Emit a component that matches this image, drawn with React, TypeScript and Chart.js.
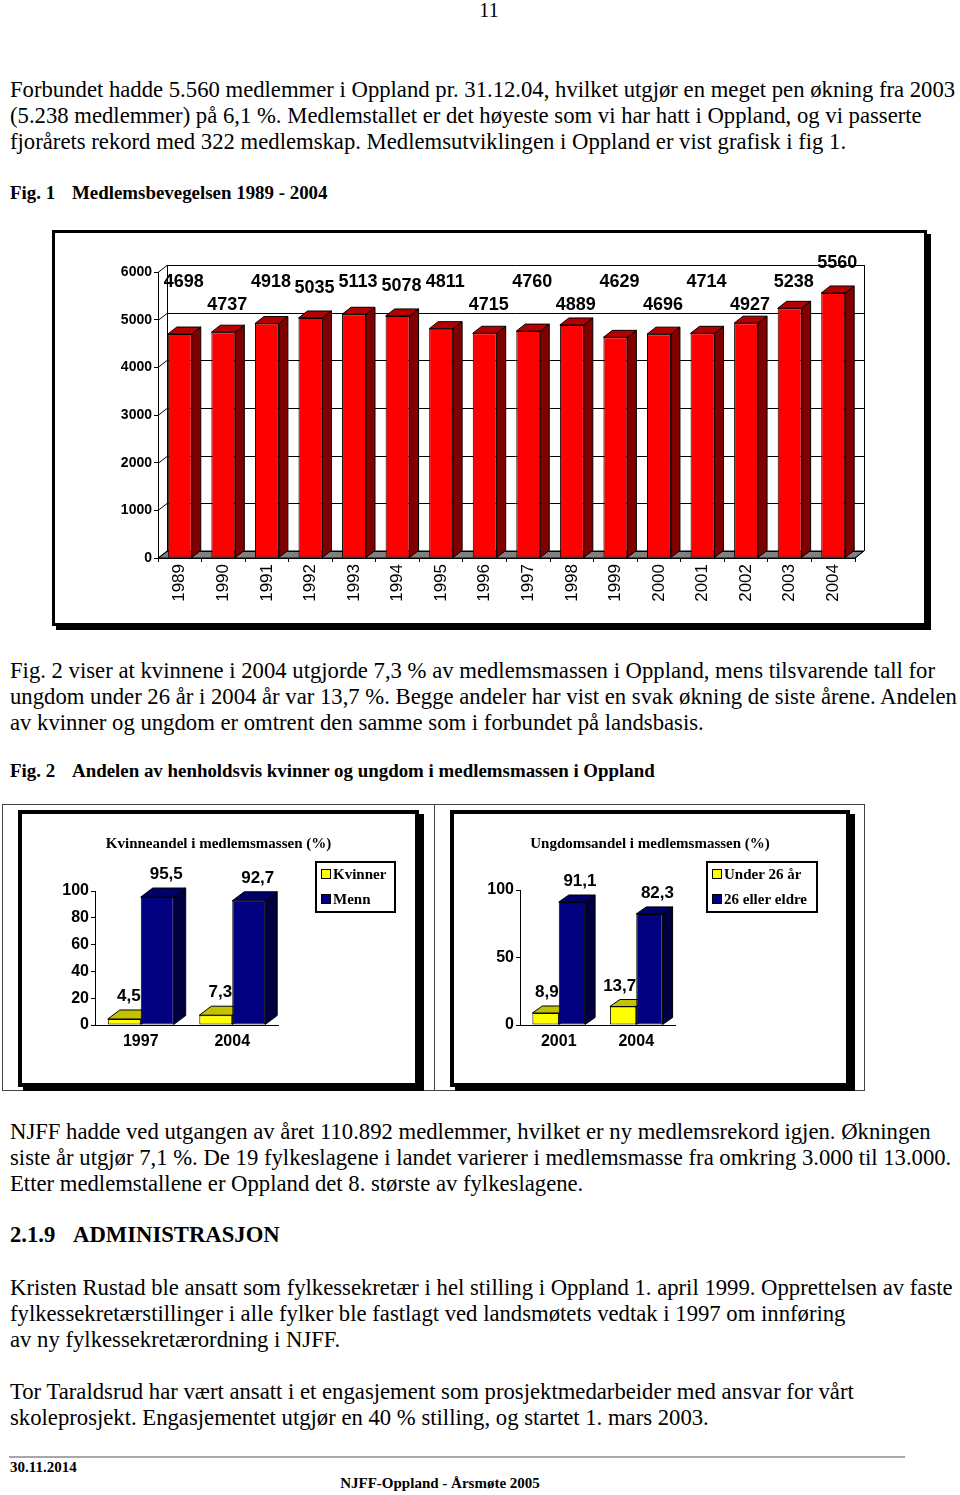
import React, { useEffect, useRef } from "react";
import { Chart, registerables } from "chart.js";

Chart.register(...registerables);

// ---------------- data ----------------
const memberYears = ["1989", "1990", "1991", "1992", "1993", "1994", "1995", "1996", "1997", "1998", "1999", "2000", "2001", "2002", "2003", "2004"];
const memberCounts = [4698, 4737, 4918, 5035, 5113, 5078, 4811, 4715, 4760, 4889, 4629, 4696, 4714, 4927, 5238, 5560];
const memberAxisMax = 6000;
const memberAxisStep = 1000;

const womenYears = ["1997", "2004"];
const womenSeries = ["Kvinner", "Menn"];
const womenShare = [4.5, 7.3];
const menShare = [95.5, 92.7];
const womenAxisStep = 20;

const youthYears = ["2001", "2004"];
const youthSeries = ["Under 26 år", "26 eller eldre"];
const youthShare = [8.9, 13.7];
const adultShare = [91.1, 82.3];
const youthAxisStep = 50;

const shareAxisMax = 100;

// ---------------- fonts ----------------
const SANS = '"Liberation Sans", Arial, Helvetica, sans-serif';
const SERIF = '"Liberation Serif", "Times New Roman", Times, serif';

// ---------------- plugins ----------------
function poly(ctx: CanvasRenderingContext2D, pts: number[][], fill: string) {
  ctx.beginPath();
  ctx.moveTo(pts[0][0], pts[0][1]);
  for (let i = 1; i < pts.length; i++) ctx.lineTo(pts[i][0], pts[i][1]);
  ctx.closePath();
  ctx.fillStyle = fill;
  ctx.fill();
  ctx.stroke();
}

const depthPlugin = {
  id: "depth3d",
  beforeDatasetsDraw(chart: any, _args: any, opts: any) {
    const { ctx, chartArea: a } = chart;
    const dx = opts.dx;
    const dy = opts.dy;
    ctx.save();
    ctx.lineWidth = 1;
    ctx.strokeStyle = "#000";
    if (opts.wall) {
      const ys = chart.scales.y;
      poly(ctx, [[a.left, a.bottom], [a.left + dx, a.bottom + dy], [a.right + dx, a.bottom + dy], [a.right, a.bottom]], opts.floorColor);
      ctx.beginPath();
      ys.ticks.forEach((t: any) => {
        const y = Math.round(ys.getPixelForValue(t.value)) + 0.5;
        ctx.moveTo(a.left, y);
        ctx.lineTo(a.left + dx, y + dy);
        ctx.lineTo(a.right + dx, y + dy);
      });
      ctx.moveTo(a.left + dx + 0.5, a.top + dy);
      ctx.lineTo(a.left + dx + 0.5, a.bottom + dy);
      ctx.moveTo(a.right + dx + 0.5, a.top + dy);
      ctx.lineTo(a.right + dx + 0.5, a.bottom + dy);
      ctx.moveTo(a.right, a.bottom);
      ctx.lineTo(a.right + dx, a.bottom + dy);
      ctx.stroke();
    }
    chart.data.datasets.forEach((ds: any, i: number) => {
      const meta = chart.getDatasetMeta(i);
      meta.data.forEach((el: any) => {
        const p = el.getProps(["x", "y", "base", "width"], true);
        const x1 = p.x - p.width / 2;
        const x2 = p.x + p.width / 2;
        poly(ctx, [[x2, p.y], [x2 + dx, p.y + dy], [x2 + dx, p.base + dy], [x2, p.base]], ds.sideColor);
        poly(ctx, [[x1, p.y], [x1 + dx, p.y + dy], [x2 + dx, p.y + dy], [x2, p.y]], ds.topColor);
      });
    });
    ctx.restore();
  },
};

const valueLabelPlugin = {
  id: "valueLabels",
  afterDatasetsDraw(chart: any, _args: any, opts: any) {
    const { ctx, chartArea: a } = chart;
    ctx.save();
    ctx.font = opts.font;
    ctx.fillStyle = "#000";
    ctx.textBaseline = "alphabetic";
    chart.data.datasets.forEach((ds: any, i: number) => {
      const meta = chart.getDatasetMeta(i);
      meta.data.forEach((el: any, j: number) => {
        const p = el.getProps(["x", "y", "width"], true);
        const v = ds.data[j];
        const text = opts.comma ? String(v).replace(".", ",") : String(v);
        const backTop = p.y + opts.dy;
        let yb: number;
        if (opts.staggered) {
          yb = a.top + (j % 2 === 0 ? opts.rowHigh : opts.rowLow);
          if (yb > backTop - opts.gap) yb = backTop - opts.clear;
        } else {
          yb = backTop - opts.gap;
        }
        if (ds.labelAlign === "right") {
          ctx.textAlign = "right";
          ctx.fillText(text, p.x + p.width / 2, yb);
        } else {
          ctx.textAlign = "center";
          ctx.fillText(text, p.x + (ds.labelShift || 0), yb);
        }
      });
    });
    ctx.restore();
  },
};

const boxLegendPlugin = {
  id: "boxLegend",
  afterDraw(chart: any, _args: any, opts: any) {
    const { ctx, chartArea: a } = chart;
    const x = a.right + opts.x;
    const y = a.top + opts.y;
    ctx.save();
    ctx.fillStyle = "#fff";
    ctx.fillRect(x, y, opts.w, opts.h);
    ctx.lineWidth = 2;
    ctx.strokeStyle = "#000";
    ctx.strokeRect(x, y, opts.w, opts.h);
    ctx.font = opts.font;
    ctx.textBaseline = "middle";
    ctx.textAlign = "left";
    chart.data.datasets.forEach((ds: any, i: number) => {
      const cy = Math.round(y + opts.rowTop + i * opts.rowGap);
      ctx.lineWidth = 1;
      ctx.fillStyle = ds.backgroundColor;
      ctx.fillRect(x + 5.5, cy - 4.5, 9, 9);
      ctx.strokeRect(x + 5.5, cy - 4.5, 9, 9);
      ctx.fillStyle = "#000";
      ctx.fillText(ds.label, x + 17, cy + 1);
    });
    ctx.restore();
  },
};

// ---------------- chart configs ----------------
function membersConfig(): any {
  return {
    type: "bar",
    data: {
      labels: memberYears,
      datasets: [
        {
          label: "Medlemmer",
          data: memberCounts,
          backgroundColor: "#ff0000",
          borderColor: "#000",
          borderWidth: 1,
          borderSkipped: false,
          topColor: "#b40000",
          sideColor: "#800000",
          labelShift: 4,
          barPercentage: 0.55,
          categoryPercentage: 1,
        },
      ],
    },
    plugins: [depthPlugin, valueLabelPlugin],
    options: {
      animation: false,
      responsive: false,
      events: [],
      layout: { padding: { left: 53, right: 69, top: 39, bottom: 15 } },
      plugins: {
        legend: { display: false },
        tooltip: { enabled: false },
        title: { display: false },
        depth3d: { dx: 9, dy: -7, wall: true, floorColor: "#808080" },
        valueLabels: {
          font: `bold 18px ${SANS}`,
          dy: -7,
          staggered: true,
          rowHigh: 15,
          rowLow: 38,
          gap: 6,
          clear: 18,
          comma: false,
        },
      },
      scales: {
        x: {
          grid: { drawOnChartArea: false, tickLength: 4, color: "#000" },
          border: { color: "#000" },
          ticks: {
            minRotation: 90,
            maxRotation: 90,
            autoSkip: false,
            color: "#000",
            padding: 2,
            font: { family: SANS, size: 17 },
          },
          afterFit: (s: any) => {
            s.height = 50;
          },
        },
        y: {
          min: 0,
          max: memberAxisMax,
          ticks: {
            stepSize: memberAxisStep,
            color: "#000",
            padding: 2,
            font: { family: SANS, size: 14, weight: "bold" },
            callback: (v: any) => String(v),
          },
          grid: { drawOnChartArea: false, tickLength: 4, color: "#000" },
          border: { color: "#000" },
          afterFit: (s: any) => {
            s.width = 50;
          },
        },
      },
    },
  };
}

function shareConfig(p: {
  title: string;
  labels: string[];
  series: string[];
  low: number[];
  high: number[];
  step: number;
  yWidth: number;
  padWidth: number;
  titleBottom: number;
  catPct: number;
  dx: number;
  dy: number;
  legendX: number;
  legendY: number;
  legendW: number;
}): any {
  return {
    type: "bar",
    data: {
      labels: p.labels,
      datasets: [
        {
          label: p.series[0],
          data: p.low,
          backgroundColor: "#ffff00",
          borderColor: "#000",
          borderWidth: 1,
          borderSkipped: false,
          topColor: "#c2c200",
          sideColor: "#808000",
          labelAlign: "right",
          barPercentage: 1,
          categoryPercentage: p.catPct,
        },
        {
          label: p.series[1],
          data: p.high,
          backgroundColor: "#000080",
          borderColor: "#000",
          borderWidth: 1,
          borderSkipped: false,
          topColor: "#000068",
          sideColor: "#000040",
          labelShift: p.dx / 2 + 3,
          barPercentage: 1,
          categoryPercentage: p.catPct,
        },
      ],
    },
    plugins: [depthPlugin, valueLabelPlugin, boxLegendPlugin],
    options: {
      animation: false,
      responsive: false,
      events: [],
      layout: { padding: { left: 0, right: 0, top: 0, bottom: 28 } },
      plugins: {
        legend: { display: false },
        tooltip: { enabled: false },
        title: {
          display: true,
          text: p.title,
          color: "#000",
          font: { family: SERIF, size: 15, weight: "bold", lineHeight: 1.2 },
          padding: { top: 21, bottom: p.titleBottom },
        },
        depth3d: { dx: p.dx, dy: p.dy, wall: false },
        valueLabels: {
          font: `bold 17px ${SANS}`,
          dy: p.dy,
          staggered: false,
          gap: 9,
          comma: true,
        },
        boxLegend: {
          x: p.legendX,
          y: p.legendY,
          w: p.legendW,
          h: 50,
          rowTop: 12,
          rowGap: 25,
          font: `bold 15px ${SERIF}`,
        },
      },
      scales: {
        x: {
          grid: { drawOnChartArea: false, drawTicks: false, color: "#000" },
          border: { color: "#000" },
          ticks: {
            color: "#000",
            padding: 7,
            font: { family: SANS, size: 16, weight: "bold" },
          },
          afterFit: (s: any) => {
            s.height = 30;
          },
        },
        y: {
          min: 0,
          max: shareAxisMax,
          ticks: {
            stepSize: p.step,
            color: "#000",
            padding: 2,
            font: { family: SANS, size: 16, weight: "bold" },
          },
          grid: { drawOnChartArea: false, tickLength: 4, color: "#000" },
          border: { color: "#000" },
          afterFit: (s: any) => {
            s.width = p.yWidth;
          },
        },
        yPad: {
          type: "linear",
          position: "right",
          display: true,
          ticks: { display: false },
          grid: { display: false },
          border: { display: false },
          afterFit: (s: any) => {
            s.width = p.padWidth;
          },
        },
      },
    },
  };
}

// ---------------- components ----------------
function ChartCanvas(props: { left: number; top: number; width: number; height: number; make: () => any }) {
  const ref = useRef<HTMLCanvasElement | null>(null);
  useEffect(() => {
    const chart = new Chart(ref.current as HTMLCanvasElement, props.make());
    return () => chart.destroy();
  }, []);
  return (
    <canvas
      ref={ref}
      width={props.width}
      height={props.height}
      style={{ position: "absolute", left: props.left, top: props.top, width: props.width, height: props.height }}
    />
  );
}

function Line(props: { x: number; y: number; size: number; bold?: boolean; center?: boolean; children: React.ReactNode }) {
  return (
    <div
      style={{
        position: "absolute",
        left: props.x,
        top: props.y,
        fontFamily: SERIF,
        fontSize: props.size,
        lineHeight: `${props.size}px`,
        fontWeight: props.bold ? "bold" : "normal",
        whiteSpace: "nowrap",
        color: "#000",
        transform: props.center ? "translateX(-50%)" : undefined,
      }}
    >
      {props.children}
    </div>
  );
}

const BODY = 22.7;

function Para(props: { top: number; lines: string[] }) {
  return (
    <>
      {props.lines.map((l, i) => (
        <Line key={i} x={10} y={props.top + i * 26} size={BODY}>
          {l}
        </Line>
      ))}
    </>
  );
}

export default function App() {
  return (
    <div
      style={{
        position: "absolute",
        left: 0,
        top: 0,
        width: 960,
        height: 1495,
        background: "#fff",
        overflow: "hidden",
      }}
    >
      <Line x={489} y={0} size={20} center>
        11
      </Line>

      <Para
        top={79.3}
        lines={[
          "Forbundet hadde 5.560 medlemmer i Oppland pr. 31.12.04, hvilket utgjør en meget pen økning fra 2003",
          "(5.238 medlemmer) på 6,1 %. Medlemstallet er det høyeste som vi har hatt i Oppland, og vi passerte",
          "fjorårets rekord med 322 medlemskap. Medlemsutviklingen i Oppland er vist grafisk i fig 1.",
        ]}
      />

      <Line x={10} y={183.5} size={18.9} bold>
        Fig. 1
      </Line>
      <Line x={72} y={183.5} size={18.9} bold>
        Medlemsbevegelsen 1989 - 2004
      </Line>

      {/* Fig. 1 frame */}
      <div
        style={{
          position: "absolute",
          left: 52,
          top: 230,
          width: 875,
          height: 396,
          boxSizing: "border-box",
          border: "3px solid #000",
          boxShadow: "4px 4px 0 #000",
          background: "#fff",
        }}
      />
      <ChartCanvas left={55} top={233} width={869} height={390} make={membersConfig} />

      <Para
        top={660.3}
        lines={[
          "Fig. 2 viser at kvinnene i 2004 utgjorde 7,3 % av medlemsmassen i Oppland, mens tilsvarende tall for",
          "ungdom under 26 år i 2004 år var 13,7 %. Begge andeler har vist en svak økning de siste årene. Andelen",
          "av kvinner og ungdom er omtrent den samme som i forbundet på landsbasis.",
        ]}
      />

      <Line x={10} y={762.2} size={18.9} bold>
        Fig. 2
      </Line>
      <Line x={72} y={762.2} size={18.9} bold>
        Andelen av henholdsvis kvinner og ungdom i medlemsmassen i Oppland
      </Line>

      {/* Fig. 2 outer thin frames */}
      <div
        style={{
          position: "absolute",
          left: 2,
          top: 804,
          width: 433,
          height: 287,
          boxSizing: "border-box",
          border: "1px solid #444",
        }}
      />
      <div
        style={{
          position: "absolute",
          left: 434,
          top: 804,
          width: 431,
          height: 287,
          boxSizing: "border-box",
          border: "1px solid #444",
        }}
      />
      {/* Fig. 2 inner framed charts */}
      <div
        style={{
          position: "absolute",
          left: 18,
          top: 810,
          width: 401,
          height: 277,
          boxSizing: "border-box",
          border: "4px solid #000",
          boxShadow: "5px 4px 0 #000",
          background: "#fff",
        }}
      />
      <ChartCanvas
        left={22}
        top={814}
        width={393}
        height={269}
        make={() =>
          shareConfig({
            title: "Kvinneandel i medlemsmassen (%)",
            labels: womenYears,
            series: womenSeries,
            low: womenShare,
            high: menShare,
            step: womenAxisStep,
            yWidth: 73,
            padWidth: 137,
            titleBottom: 38,
            catPct: 0.72,
            dx: 12,
            dy: -9,
            legendX: 38,
            legendY: -29,
            legendW: 79,
          })
        }
      />
      <div
        style={{
          position: "absolute",
          left: 450,
          top: 810,
          width: 400,
          height: 277,
          boxSizing: "border-box",
          border: "4px solid #000",
          boxShadow: "5px 4px 0 #000",
          background: "#fff",
        }}
      />
      <ChartCanvas
        left={454}
        top={814}
        width={392}
        height={269}
        make={() =>
          shareConfig({
            title: "Ungdomsandel i medlemsmassen (%)",
            labels: youthYears,
            series: youthSeries,
            low: youthShare,
            high: adultShare,
            step: youthAxisStep,
            yWidth: 66,
            padWidth: 171,
            titleBottom: 37,
            catPct: 0.68,
            dx: 10,
            dy: -7,
            legendX: 32,
            legendY: -28,
            legendW: 110,
          })
        }
      />

      <Para
        top={1121.3}
        lines={[
          "NJFF hadde ved utgangen av året 110.892 medlemmer, hvilket er ny medlemsrekord igjen. Økningen",
          "siste år utgjør 7,1 %. De 19 fylkeslagene i landet varierer i medlemsmasse fra omkring 3.000 til 13.000.",
          "Etter medlemstallene er Oppland det 8. største av fylkeslagene.",
        ]}
      />

      <Line x={10} y={1224.3} size={22.7} bold>
        2.1.9
      </Line>
      <Line x={73} y={1224.3} size={22.7} bold>
        ADMINISTRASJON
      </Line>

      <Para
        top={1277.3}
        lines={[
          "Kristen Rustad ble ansatt som fylkessekretær i hel stilling i Oppland 1. april 1999. Opprettelsen av faste",
          "fylkessekretærstillinger i alle fylker ble fastlagt ved landsmøtets vedtak i 1997 om innføring",
          "av ny fylkessekretærordning i NJFF.",
        ]}
      />

      <Para
        top={1381.3}
        lines={[
          "Tor Taraldsrud har vært ansatt i et engasjement som prosjektmedarbeider med ansvar for vårt",
          "skoleprosjekt. Engasjementet utgjør en 40 % stilling, og startet 1. mars 2003.",
        ]}
      />

      <div
        style={{
          position: "absolute",
          left: 9,
          top: 1456,
          width: 896,
          height: 2,
          background: "#a8a8a8",
        }}
      />
      <Line x={10} y={1460.4} size={15} bold>
        30.11.2014
      </Line>
      <Line x={440} y={1476.4} size={15} bold center>
        NJFF-Oppland - Årsmøte 2005
      </Line>
    </div>
  );
}
